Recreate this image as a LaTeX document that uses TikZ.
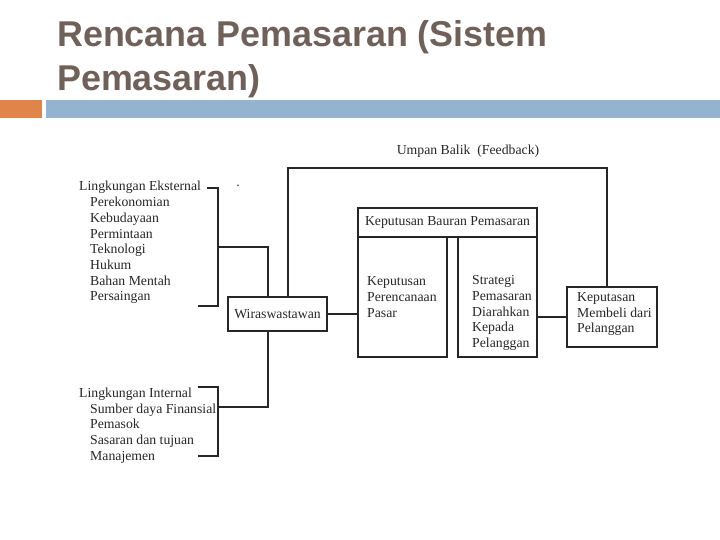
\documentclass[tikz,border=0pt]{standalone}
\usepackage{fontspec}
\setmainfont{Liberation Serif}
\newfontfamily\titlefont{Liberation Sans}
\definecolor{titlec}{RGB}{111,96,90}
\definecolor{barblue}{RGB}{148,179,209}
\definecolor{barorange}{RGB}{224,132,74}
\definecolor{ink}{RGB}{38,38,38}
\begin{document}
\begin{tikzpicture}[x=1bp,y=-1bp,
  font=\fontsize{13.8}{15.7}\selectfont,
  box/.style={draw=ink, line width=1.5bp, inner sep=0pt, text=ink},
  txt/.style={text=ink, inner sep=0pt, anchor=base west},
  lbl/.style={text=ink, inner sep=0pt, align=left, anchor=west},
  ln/.style={draw=ink, line width=1.5bp},
  ttl/.style={text=titlec, inner sep=0pt, anchor=base west, font=\titlefont\bfseries\fontsize{36}{44}\selectfont}]
\useasboundingbox (0,0) rectangle (720,540);
% title
\node[ttl] (t1) at (57,47) {Rencana Pemasaran (Sistem};
\node[ttl] (t2) at (57,91) {Pemasaran)};
\fill[barorange] (0,100) rectangle (42,118);
\fill[barblue] (46,100) rectangle (720,118);
% boxes
\node[box, minimum width=99bp, minimum height=34bp] (wira) at (277.5,314) {Wiraswastawan};
\node[box, minimum width=179bp, minimum height=29bp] (kbp) at (447.5,222.5) {Keputusan Bauran Pemasaran};
\node[box, minimum width=89bp, minimum height=120bp] (colL) at (402.5,297) {};
\node[box, minimum width=79bp, minimum height=120bp] (colR) at (497.5,297) {};
\node[box, minimum width=90bp, minimum height=60bp] (kms) at (612,317) {};
\node[lbl] (colLt) at (367,297) {Keputusan\\Perencanaan\\Pasar};
\node[lbl] (colRt) at (472,313) {Strategi\\Pemasaran\\Diarahkan\\Kepada\\Pelanggan};
\node[lbl] (kmst) at (577,314) {Keputasan\\Membeli dari\\Pelanggan};
\node[text=ink, inner sep=0pt] (fb) at (468,151) {Umpan Balik~ (Feedback)};
\node[text=ink, inner sep=0pt] (dot) at (238,186) {.};
% external list
\node[txt] (e0) at (79,191) {Lingkungan Eksternal};
\node[txt] (e1) at (90,206.7) {Perekonomian};
\node[txt] (e2) at (90,222.4) {Kebudayaan};
\node[txt] (e3) at (90,238.1) {Permintaan};
\node[txt] (e4) at (90,253.8) {Teknologi};
\node[txt] (e5) at (90,269.5) {Hukum};
\node[txt] (e6) at (90,285.2) {Bahan Mentah};
\node[txt] (e7) at (90,300.9) {Persaingan};
% internal list
\node[txt] (i0) at (79,397) {Lingkungan Internal};
\node[txt] (i1) at (90,413) {Sumber daya Finansial};
\node[txt] (i2) at (90,428.7) {Pemasok};
\node[txt] (i3) at (90,444.4) {Sasaran dan tujuan};
\node[txt] (i4) at (90,460.1) {Manajemen};
% coordinates
\coordinate (eb1) at (207,188);
\coordinate (eb2) at (218,188);
\coordinate (eb3) at (218,306);
\coordinate (eb4) at (198,306);
\coordinate (ebm) at (218,247);
\coordinate (ib1) at (198,387);
\coordinate (ib2) at (218,387);
\coordinate (ib3) at (218,456);
\coordinate (ib4) at (198,456);
\coordinate (ibm) at (218,407);
\coordinate (fbl) at (288,168);
\coordinate (fbr) at (607,168);
% connectors
\draw[ln] (eb1) -- (eb2) -- (eb3) -- (eb4);
\draw[ln] (ebm) -| (wira.north -| 268,0);
\draw[ln] (ib1) -- (ib2) -- (ib3) -- (ib4);
\draw[ln] (ibm) -| (wira.south -| 268,0);
\draw[ln] (wira.north -| fbl) -- (fbl) -- (fbr) -- (kms.north -| fbr);
\draw[ln] (wira.east) -- (wira.east -| colL.west);
\draw[ln] (kms.west) -- (kms.west -| colR.east);
\end{tikzpicture}
\end{document}
